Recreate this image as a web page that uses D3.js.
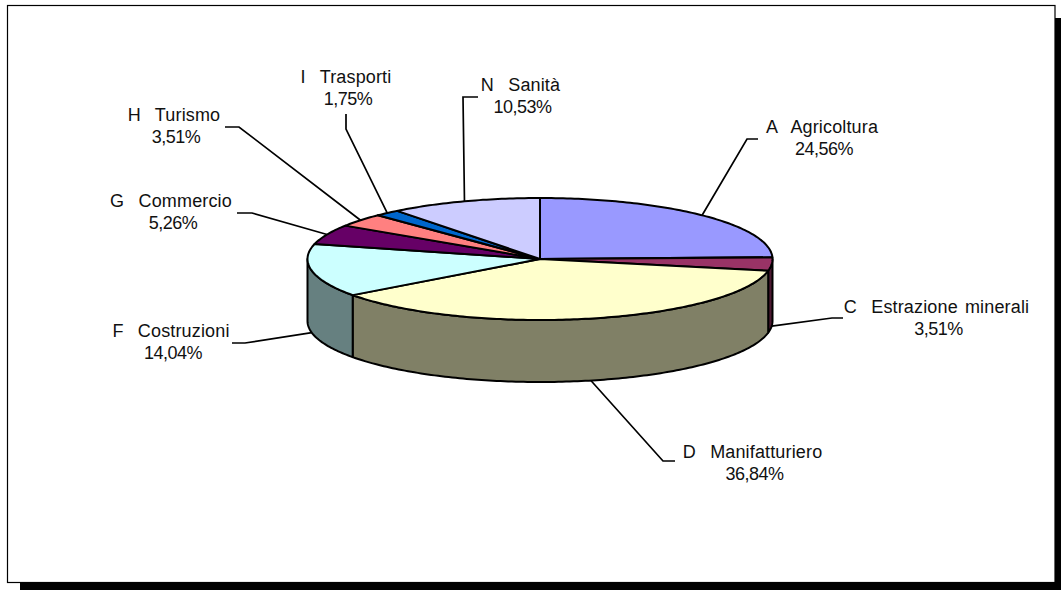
<!DOCTYPE html>
<html>
<head>
<meta charset="utf-8">
<script src="https://cdn.jsdelivr.net/npm/d3@7"></script>
<style>
html, body { margin: 0; padding: 0; background: #fff; }
svg { display: block; }
text { font-family: "Liberation Sans", Arial, sans-serif; font-size: 18px; fill: #111; text-anchor: middle; }
.name { word-spacing: 2px; letter-spacing: 0.15px; white-space: pre; }
.pct { letter-spacing: -0.5px; }
</style>
</head>
<body>
<script>
// slices, clockwise from 12 o'clock
var categories = ["A  Agricoltura", "C  Estrazione minerali", "D  Manifatturiero", "F  Costruzioni",
                  "G  Commercio", "H  Turismo", "I  Trasporti", "N  Sanità"];
var values = [24.56, 3.51, 36.84, 14.04, 5.26, 3.51, 1.75, 10.53];
var topColors = ["#9999ff", "#993366", "#ffffcc", "#ccffff", "#660066", "#ff8080", "#0066cc", "#ccccff"];
var sideColors = ["#4d4d80", "#4d1a33", "#808066", "#668080", "#330033", "#804040", "#003366", "#666680"];

// label centre and leader elbows, same order as categories
var labelX = [822, 936.5, 752.5, 171, 171, 174, 346, 520.5];
var labelY = [127, 307, 452, 331, 201, 115, 77, 85];
var leaderElbows = [
	[[747, 139], [758, 139]],
	[[832, 318], [843, 318]],
	[[663, 461], [675, 461]],
	[[245, 343], [232, 343]],
	[[252, 213], [237, 213]],
	[[239, 127], [225, 127]],
	[[346, 129], [346, 114]],
	[[463, 97], [478, 97]]
];

var width = 1061, height = 590;
var cx = 540, cy = 259, rx = 232.5, ry = 61, depth = 62;

var xScale = d3.scaleLinear().domain([-1, 1]).range([cx - rx, cx + rx]);
var yScale = d3.scaleLinear().domain([-1, 1]).range([cy - ry, cy + ry]);

var slices = d3.pie().sort(null)(values);

function px(a) { return xScale(Math.sin(a)); }
function py(a) { return yScale(-Math.cos(a)); }

// points along the rim between two angles
function rim(a0, a1) {
	var n = Math.max(2, Math.ceil(Math.abs(a1 - a0) * 60));
	return d3.range(n + 1).map(function(i) {
		var a = a0 + (a1 - a0) * i / n;
		return [px(a), py(a)];
	});
}

var line = d3.line();

var svg = d3.select("body").append("svg")
	.attr("width", width)
	.attr("height", height);

// frame and drop shadow
svg.append("rect").attr("x", 1055).attr("y", 18).attr("width", 6).attr("height", 572).attr("fill", "#000");
svg.append("rect").attr("x", 20).attr("y", 583).attr("width", 1041).attr("height", 7).attr("fill", "#000");
svg.append("rect")
	.attr("x", 7.5).attr("y", 5.5)
	.attr("width", 1047.5).attr("height", 577)
	.attr("fill", "#fff").attr("stroke", "#000").attr("stroke-width", 1.2);

// side walls, only the front half of the disc shows
var sides = slices.filter(function(d) {
	return d.endAngle > Math.PI / 2 && d.startAngle < Math.PI * 1.5;
});

svg.selectAll(".side")
	.data(sides)
	.enter()
	.append("path")
	.attr("class", "side")
	.attr("fill", function(d) { return sideColors[d.index]; })
	.attr("stroke", "#000")
	.attr("stroke-width", 2)
	.attr("stroke-linejoin", "round")
	.attr("d", function(d) {
		var a0 = Math.max(d.startAngle, Math.PI / 2);
		var a1 = Math.min(d.endAngle, Math.PI * 1.5);
		var upper = rim(a0, a1);
		var lower = upper.slice().reverse().map(function(p) { return [p[0], p[1] + depth]; });
		return line(upper.concat(lower)) + "Z";
	});

// top face
svg.selectAll(".slice")
	.data(slices)
	.enter()
	.append("path")
	.attr("class", "slice")
	.attr("fill", function(d) { return topColors[d.index]; })
	.attr("stroke", "#000")
	.attr("stroke-width", 2)
	.attr("stroke-linejoin", "round")
	.attr("d", function(d) {
		return line([[xScale(0), yScale(0)]].concat(rim(d.startAngle, d.endAngle))) + "Z";
	});

// leader lines start on the outer edge of their slice
svg.selectAll(".leader")
	.data(slices)
	.enter()
	.append("path")
	.attr("class", "leader")
	.attr("fill", "none")
	.attr("stroke", "#000")
	.attr("stroke-width", 1.7)
	.attr("d", function(d) {
		var mid = (d.startAngle + d.endAngle) / 2;
		var front = Math.cos(mid) < 0 || d.index === 1 || d.index === 3;
		var start = [px(mid), py(mid) + (front ? depth : 0)];
		return line([start].concat(leaderElbows[d.index]));
	});

svg.selectAll(".name")
	.data(categories)
	.enter()
	.append("text")
	.attr("class", "name")
	.attr("x", function(d, i) { return labelX[i]; })
	.attr("y", function(d, i) { return labelY[i]; })
	.attr("dy", "0.35em")
	.text(function(d) { return d; });

svg.selectAll(".pct")
	.data(values)
	.enter()
	.append("text")
	.attr("class", "pct")
	.attr("x", function(d, i) { return labelX[i] + 2; })
	.attr("y", function(d, i) { return labelY[i] + 22; })
	.attr("dy", "0.35em")
	.text(function(d) { return d.toFixed(2).replace(".", ",") + "%"; });
</script>
</body>
</html>
